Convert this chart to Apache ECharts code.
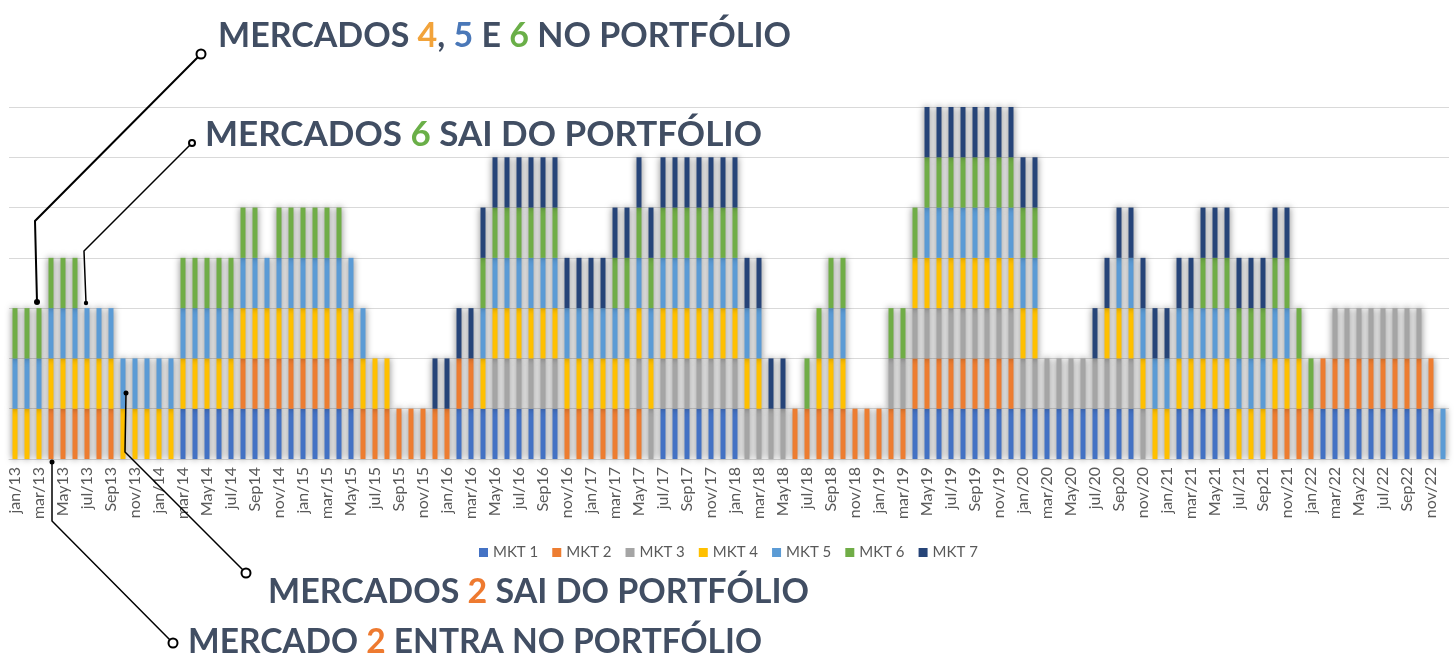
<!DOCTYPE html>
<html>
<head>
<meta charset="utf-8">
<script src="https://cdn.jsdelivr.net/npm/echarts@6/dist/echarts.min.js"></script>
<style>
  html, body { margin: 0; padding: 0; background: #fff; }
  #grafico { width: 1456px; height: 669px; }
</style>
</head>
<body>
<div id="grafico"></div>
<script>
// rótulos do eixo x: mês + ano (jan/13 ... dec/22)
var meses = ['jan/', 'feb/', 'mar/', 'Apr', 'May', 'jun/', 'jul/', 'Aug', 'Sep', 'oct/', 'nov/', 'dec/'];
var anos = ['13', '14', '15', '16', '17', '18', '19', '20', '21', '22'];
var categorias = [];
anos.forEach(function (a) {
    meses.forEach(function (m) { categorias.push(m + a); });
});

// 1 = mercado no portfólio naquele mês (uma linha por ano)
var mkt1 = [
    0,0,0,0,0,0,0,0,0,0,0,0,
    0,0,1,1,1,1,1,1,1,1,1,1,
    1,1,1,1,1,0,0,0,0,0,0,0,
    0,1,1,1,1,1,1,1,1,1,0,0,
    0,0,0,0,0,0,1,1,1,1,1,1,
    1,0,0,0,0,0,0,0,0,0,0,0,
    0,0,0,1,1,1,1,1,1,1,1,1,
    1,1,1,1,1,1,1,1,1,1,0,0,
    0,1,1,1,1,1,0,0,0,0,0,0,
    0,1,1,1,1,1,1,1,1,1,1,0
];
var mkt2 = [
    0,0,0,1,1,1,1,1,1,0,0,0,
    0,0,0,0,0,0,0,1,1,1,1,1,
    1,1,1,1,1,1,1,1,1,1,1,1,
    1,1,1,0,0,0,0,0,0,0,1,1,
    1,1,1,1,1,0,0,0,0,0,0,0,
    0,0,0,0,0,1,1,1,1,1,1,1,
    1,1,1,1,1,1,1,1,1,1,1,1,
    0,0,0,0,0,0,0,0,0,0,0,0,
    0,0,0,0,0,0,0,0,0,1,1,1,
    1,1,1,1,1,1,1,1,1,1,1,0
];
var mkt3 = [
    0,0,0,0,0,0,0,0,0,0,0,0,
    0,0,0,0,0,0,0,0,0,0,0,0,
    0,0,0,0,0,0,0,0,0,0,0,0,
    0,0,0,0,1,1,1,1,1,1,0,0,
    0,0,0,0,1,1,1,1,1,1,1,1,
    1,1,1,1,1,0,0,0,0,0,0,0,
    0,1,1,1,1,1,1,1,1,1,1,1,
    1,1,1,1,1,1,1,1,1,1,1,0,
    0,0,0,0,0,0,0,0,0,0,0,0,
    0,0,1,1,1,1,1,1,1,1,0,0
];
var mkt4 = [
    1,1,1,1,1,1,1,1,1,1,1,1,
    1,1,1,1,1,1,1,1,1,1,1,1,
    1,1,1,1,1,1,1,1,0,0,0,0,
    0,0,0,1,1,1,1,1,1,1,1,1,
    1,1,1,1,1,1,1,1,1,1,1,1,
    1,1,1,0,0,0,0,1,1,1,0,0,
    0,0,0,1,1,1,1,1,1,1,1,1,
    1,1,0,0,0,0,0,1,1,1,1,1,
    1,1,1,1,1,1,1,1,1,1,1,1,
    0,0,0,0,0,0,0,0,0,0,0,0
];
var mkt5 = [
    1,1,1,1,1,1,1,1,1,1,1,1,
    1,1,1,1,1,1,1,1,1,1,1,1,
    1,1,1,1,1,1,0,0,0,0,0,0,
    0,0,0,1,1,1,1,1,1,1,1,1,
    1,1,1,1,1,1,1,1,1,1,1,1,
    1,1,1,0,0,0,0,0,1,1,0,0,
    0,0,0,0,1,1,1,1,1,1,1,1,
    1,1,0,0,0,0,0,0,1,1,1,1,
    1,1,1,1,1,1,1,1,1,1,1,0,
    0,0,0,0,0,0,0,0,0,0,0,1
];
var mkt6 = [
    1,1,1,1,1,1,0,0,0,0,0,0,
    0,0,1,1,1,1,1,1,1,0,1,1,
    1,1,1,1,0,0,0,0,0,0,0,0,
    0,0,0,1,1,1,1,1,1,1,0,0,
    0,0,1,1,1,1,1,1,1,1,1,1,
    1,0,0,0,0,0,1,1,1,1,0,0,
    0,1,1,1,1,1,1,1,1,1,1,1,
    1,1,0,0,0,0,0,0,0,0,0,0,
    0,0,0,1,1,1,1,1,1,1,1,1,
    1,0,0,0,0,0,0,0,0,0,0,0
];
var mkt7 = [
    0,0,0,0,0,0,0,0,0,0,0,0,
    0,0,0,0,0,0,0,0,0,0,0,0,
    0,0,0,0,0,0,0,0,0,0,0,1,
    1,1,1,1,1,1,1,1,1,1,1,1,
    1,1,1,1,1,1,1,1,1,1,1,1,
    1,1,1,1,1,0,0,0,0,0,0,0,
    0,0,0,0,1,1,1,1,1,1,1,1,
    1,1,0,0,0,0,1,1,1,1,1,1,
    1,1,1,1,1,1,1,1,1,1,1,0,
    0,0,0,0,0,0,0,0,0,0,0,0
];

var nomes = ['MKT 1', 'MKT 2', 'MKT 3', 'MKT 4', 'MKT 5', 'MKT 6', 'MKT 7'];
var cores = ['#4472C4', '#ED7D31', '#A5A5A5', '#FFC000', '#5B9BD5', '#70AD47', '#264478'];
var dados = [mkt1, mkt2, mkt3, mkt4, mkt5, mkt6, mkt7];

var corTexto = '#414e63';
var fonteTitulo = 'Lato, "Open Sans", sans-serif';

function titulo(x, y, tamanho, texto) {
    var estilo = function (cor) {
        return { fill: cor, fontSize: tamanho, fontWeight: 'bold', fontFamily: fonteTitulo };
    };
    return {
        type: 'text', x: x, y: y, z: 100,
        style: {
            text: texto, verticalAlign: 'middle', align: 'left',
            rich: { t: estilo(corTexto), o: estilo('#F2A33A'), b: estilo('#4A78B8'),
                    g: estilo('#6AAF48'), r: estilo('#EE7A30') }
        }
    };
}
function linha(pontos, largura) {
    return { type: 'polyline', z: 100, shape: { points: pontos },
             style: { stroke: '#000', lineWidth: largura, fill: null } };
}
function aro(x, y, r) {
    return { type: 'circle', z: 101, shape: { cx: x, cy: y, r: r },
             style: { stroke: '#000', lineWidth: 2, fill: '#fff' } };
}
function ponto(x, y, r) {
    return { type: 'circle', z: 101, shape: { cx: x, cy: y, r: r },
             style: { fill: '#000' } };
}

var myChart = echarts.init(document.getElementById('grafico'));

myChart.setOption({
    backgroundColor: '#FFF',
    animation: false,
    grid: { left: 9, right: 7, top: 107, bottom: 210 },
    legend: {
        left: 474, top: 540,
        itemWidth: 9, itemHeight: 9, itemGap: 14,
        icon: 'rect',
        textStyle: { color: '#595959', fontSize: 15, fontFamily: 'Lato, sans-serif' },
        data: nomes
    },
    xAxis: {
        type: 'category',
        data: categorias,
        axisLine: { lineStyle: { color: '#d9d9d9' } },
        axisTick: { show: false },
        axisLabel: {
            interval: 1, rotate: 90, margin: 8,
            color: '#595959', fontSize: 16, fontFamily: 'Lato, sans-serif'
        }
    },
    yAxis: {
        type: 'value', min: 0, max: 7, interval: 1,
        axisLabel: { show: false },
        axisLine: { show: false },
        axisTick: { show: false },
        splitLine: { lineStyle: { color: '#d9d9d9', width: 1 } }
    },
    series: dados.map(function (d, i) {
        return {
            name: nomes[i],
            type: 'bar',
            stack: 'total',
            barWidth: 5,
            itemStyle: {
                color: cores[i],
                shadowBlur: 7,
                shadowColor: 'rgba(0,0,0,0.55)'
            },
            data: d.map(function (v) { return v ? v : '-'; })
        };
    }),
    graphic: [
        linha([[201, 54], [35, 221], [37, 302]], 2),
        aro(201, 54, 4.5), ponto(37, 302, 3),
        linha([[192, 143], [84, 251], [86, 303]], 1.5),
        aro(192, 143, 3), ponto(86, 303, 2.2),
        linha([[126, 393], [125, 452], [246, 573]], 1.5),
        ponto(126, 393, 2.5), aro(246, 573, 4.5),
        linha([[52, 462], [52, 521], [173, 643]], 1.5),
        ponto(52, 462, 2.5), aro(173, 643, 4.5),
        titulo(218, 36, 34, '{t|MERCADOS }{o|4}{t|, }{b|5}{t| E }{g|6}{t| NO PORTFÓLIO}'),
        titulo(205, 135, 35, '{t|MERCADOS }{g|6}{t| SAI DO PORTFÓLIO}'),
        titulo(268, 592, 34, '{t|MERCADOS }{r|2}{t| SAI DO PORTFÓLIO}'),
        titulo(188, 642, 33.5, '{t|MERCADO }{r|2}{t| ENTRA NO PORTFÓLIO}')
    ]
});
</script>
</body>
</html>
